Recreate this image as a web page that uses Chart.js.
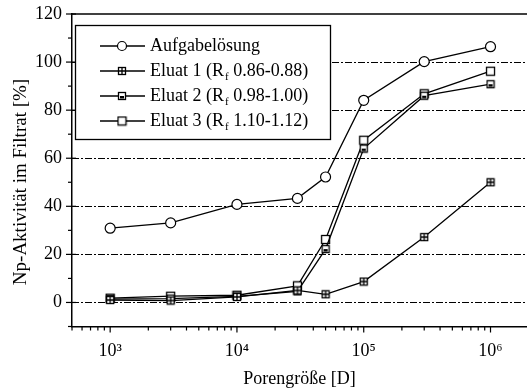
<!DOCTYPE html>
<html>
<head>
<meta charset="utf-8">
<script src="https://cdn.jsdelivr.net/npm/chart.js@4.4.1/dist/chart.umd.min.js"></script>
<style>
  html, body { margin: 0; padding: 0; background: #fff; overflow: hidden; }
  #wrap { width: 527px; height: 390px; }
</style>
</head>
<body>
<div id="wrap"><canvas id="porenChart" width="527" height="390"></canvas></div>
<script>
// Porengröße in Dalton
const porengroesse = [1e3, 3e3, 1e4, 3e4, 5e4, 1e5, 3e5, 1e6];

const aufgabeloesung = [30.9, 33.1, 40.8, 43.3, 52.2, 84.1, 100.2, 106.4];
const eluat1 = [1.0, 0.8, 2.3, 5.0, 3.4, 8.7, 27.2, 50.0];
const eluat2 = [1.4, 1.6, 2.5, 4.6, 22.2, 64.0, 86.0, 90.8];
const eluat3 = [1.8, 2.6, 3.0, 6.9, 26.2, 67.5, 86.8, 96.2];

const seriesNames = ["Aufgabelösung", "Eluat 1", "Eluat 2", "Eluat 3"];
const rfRanges = [null, "0.86-0.88", "0.98-1.00", "1.10-1.12"];

const xTickValues = [1e3, 1e4, 1e5, 1e6];
const xTickLabels = ["10³", "10⁴", "10⁵", "10⁶"];
const yTickValues = [0, 20, 40, 60, 80, 100, 120];

const FONT = "Liberation Serif";

// eigene Marker (Quadrat mit Kreuz / mit Balken / leer)
function makeMarker(kind) {
    const c = document.createElement("canvas");
    const s = kind === "open" ? 11 : 10;
    c.width = s; c.height = s;
    const g = c.getContext("2d");
    g.fillStyle = "#fff";
    g.strokeStyle = "#000";
    g.lineWidth = 1.3;
    const o = 1, w = s - 2;
    g.fillRect(o, o, w, w);
    g.strokeRect(o + 0.5, o + 0.5, w - 1, w - 1);
    if (kind === "cross") {
        g.beginPath();
        g.moveTo(s / 2, o); g.lineTo(s / 2, o + w);
        g.moveTo(o, s / 2); g.lineTo(o + w, s / 2);
        g.stroke();
    } else if (kind === "bar") {
        g.fillStyle = "#000";
        g.fillRect(3, 5, s - 6, 2.5);
    }
    return c;
}

const markerCross = makeMarker("cross");
const markerBar = makeMarker("bar");
const markerOpen = makeMarker("open");
const pointStyles = ["circle", markerCross, markerBar, markerOpen];

function toPoints(arr) {
    return arr.map((v, i) => ({ x: porengroesse[i], y: v }));
}

function ds(label, values, style) {
    return {
        label: label,
        data: toPoints(values),
        borderColor: "#000",
        backgroundColor: "#fff",
        borderWidth: 1.3,
        pointStyle: style,
        pointRadius: 5,
        pointBorderWidth: 1.2,
        pointBorderColor: "#000",
        pointBackgroundColor: "#fff",
        tension: 0,
        clip: false,
    };
}

const decorPlugin = {
    id: "decor",
    beforeDatasetsDraw(chart) {
        const { ctx, chartArea: a, scales } = chart;
        const y = scales.y;
        ctx.save();
        ctx.strokeStyle = "#000";
        ctx.lineWidth = 1;
        ctx.setLineDash([7, 2, 2, 2]);
        [0, 20, 40, 60, 80, 100].forEach(v => {
            const py = Math.round(y.getPixelForValue(v)) + 0.5;
            ctx.beginPath();
            ctx.moveTo(a.left, py);
            ctx.lineTo(a.right, py);
            ctx.stroke();
        });
        ctx.restore();
    },
    afterDraw(chart) {
        const { ctx, chartArea: a, scales } = chart;
        const x = scales.x, y = scales.y;
        ctx.save();
        ctx.strokeStyle = "#000";
        ctx.lineWidth = 1.5;
        // obere Rahmenlinie
        ctx.beginPath();
        ctx.moveTo(a.left, a.top);
        ctx.lineTo(a.right, a.top);
        ctx.stroke();

        // y-Ticks
        ctx.lineWidth = 1.2;
        for (let v = -10; v <= 120; v += 10) {
            const py = y.getPixelForValue(v);
            const major = v % 20 === 0;
            ctx.beginPath();
            ctx.moveTo(major ? a.left - 6 : a.left - 4, py);
            ctx.lineTo(major ? a.left + 4 : a.left, py);
            ctx.stroke();
        }
        // x-Ticks (logarithmisch)
        for (let e = 2; e <= 6; e++) {
            for (let m = 1; m <= 9; m++) {
                const v = m * Math.pow(10, e);
                if (v < x.min || v > x.max) continue;
                const px = x.getPixelForValue(v);
                ctx.beginPath();
                ctx.moveTo(px, a.bottom);
                ctx.lineTo(px, a.bottom + (m === 1 ? 6 : 4));
                ctx.stroke();
            }
        }

        // Achsentitel
        ctx.fillStyle = "#000";
        ctx.font = "18px '" + FONT + "'";
        ctx.textAlign = "center";
        ctx.textBaseline = "middle";
        ctx.fillText("Porengröße [D]", (a.left + a.right) / 2, 379);
        ctx.save();
        ctx.translate(21, 182);
        ctx.rotate(-Math.PI / 2);
        ctx.font = "19px '" + FONT + "'";
        ctx.fillText("Np-Aktivität im Filtrat [%]", 0, 0);
        ctx.restore();

        // Legende
        const bx = 75, by = 25, bw = 255, bh = 114;
        ctx.lineWidth = 1.3;
        ctx.fillStyle = "#fff";
        ctx.fillRect(bx, by, bw, bh);
        ctx.strokeRect(bx + 0.5, by + 0.5, bw, bh);
        const rowY = [46, 71, 96, 121];
        seriesNames.forEach((name, i) => {
            const ry = rowY[i];
            ctx.strokeStyle = "#000";
            ctx.lineWidth = 1.3;
            ctx.beginPath();
            ctx.moveTo(100, ry);
            ctx.lineTo(145, ry);
            ctx.stroke();
            const st = pointStyles[i];
            if (st === "circle") {
                ctx.fillStyle = "#fff";
                ctx.lineWidth = 1.2;
                ctx.beginPath();
                ctx.arc(122, ry, 4.5, 0, Math.PI * 2);
                ctx.fill();
                ctx.stroke();
            } else {
                ctx.drawImage(st, 122 - st.width / 2, ry - st.height / 2);
            }
            ctx.fillStyle = "#000";
            ctx.textAlign = "left";
            ctx.textBaseline = "alphabetic";
            ctx.font = "18px '" + FONT + "'";
            const base = ry + 5;
            if (rfRanges[i] === null) {
                ctx.fillText(name, 150, base);
            } else {
                const head = name + " (R";
                ctx.fillText(head, 150, base);
                let cx = 150 + ctx.measureText(head).width;
                ctx.font = "11px '" + FONT + "'";
                ctx.fillText("f", cx + 1, base + 4);
                cx += ctx.measureText("f").width + 1;
                ctx.font = "18px '" + FONT + "'";
                ctx.fillText(" " + rfRanges[i] + ")", cx, base);
            }
        });
        ctx.restore();
    },
};

const ctx = document.getElementById("porenChart").getContext("2d");

new Chart(ctx, {
    type: "line",
    data: {
        datasets: [
            ds(seriesNames[0], aufgabeloesung, pointStyles[0]),
            ds(seriesNames[1], eluat1, pointStyles[1]),
            ds(seriesNames[2], eluat2, pointStyles[2]),
            ds(seriesNames[3], eluat3, pointStyles[3]),
        ],
    },
    options: {
        responsive: false,
        animation: false,
        devicePixelRatio: 1,
        layout: { autoPadding: false, padding: { top: 14, right: 0, left: 0, bottom: 0 } },
        plugins: {
            legend: { display: false },
            tooltip: { enabled: false },
        },
        scales: {
            x: {
                type: "logarithmic",
                min: 500,
                max: 1.94e6,
                afterBuildTicks: (scale) => {
                    scale.ticks = xTickValues.map(v => ({ value: v }));
                },
                afterFit: (scale) => {
                    scale.height = 63.5;
                    scale.paddingLeft = 0;
                    scale.paddingRight = 0;
                },
                ticks: {
                    autoSkip: false,
                    maxRotation: 0,
                    padding: 14,
                    color: "#000",
                    font: { family: FONT, size: 18 },
                    callback: (v) => {
                        const i = xTickValues.indexOf(v);
                        return i >= 0 ? xTickLabels[i] : "";
                    },
                },
                grid: { display: false, drawTicks: false },
                border: { display: true, color: "#000", width: 1.5 },
            },
            y: {
                min: -10,
                max: 120,
                afterBuildTicks: (scale) => {
                    scale.ticks = yTickValues.map(v => ({ value: v }));
                },
                afterFit: (scale) => {
                    scale.width = 72;
                    scale.paddingTop = 0;
                    scale.paddingBottom = 0;
                },
                ticks: {
                    padding: 10,
                    color: "#000",
                    font: { family: FONT, size: 18 },
                    callback: (v) => String(v),
                },
                grid: { display: false, drawTicks: false },
                border: { display: true, color: "#000", width: 1.5 },
            },
        },
    },
    plugins: [decorPlugin],
});
</script>
</body>
</html>
